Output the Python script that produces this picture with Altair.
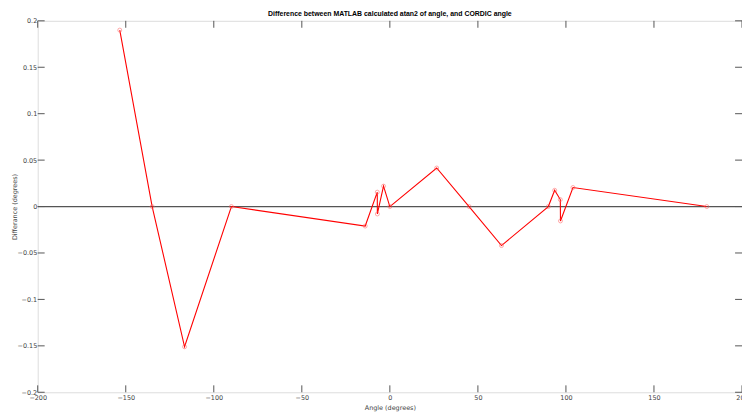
import altair as alt
import pandas as pd

# Data
angles = [-153.4, -135.0, -116.6, -90.0, -14.0, -7.15, -7.1, -3.6, 0.0, 26.6, 45.0,
          63.4, 90.0, 93.6, 96.8, 96.9, 104.0, 180.0]
diffs = [0.190, 0.0, -0.151, 0.0, -0.021, 0.0155, -0.008, 0.022, 0.0, 0.0415, 0.0,
         -0.042, 0.0, 0.0175, 0.0075, -0.0155, 0.0205, 0.0]
x_ticks = [-200, -150, -100, -50, 0, 50, 100, 150, 200]
y_ticks = [-0.2, -0.15, -0.1, -0.05, 0, 0.05, 0.1, 0.15, 0.2]
zero_x = [-200, 200]
zero_y = [0, 0]

W, H = 711, 375
FONT = "DejaVu Sans"
FS = 6.5

df = pd.DataFrame({"angle": angles, "diff": diffs, "idx": list(range(len(angles)))})
zero_df = pd.DataFrame({"angle": zero_x, "diff": zero_y})
xt_df = pd.DataFrame({"angle": x_ticks})
yt_df = pd.DataFrame({"diff": y_ticks})

xscale = alt.Scale(domain=[-200, 200], nice=False, zero=False)
yscale = alt.Scale(domain=[-0.2, 0.2], nice=False, zero=False)

x_axis = alt.Axis(values=x_ticks, ticks=False, grid=False, domain=False, labelFont=FONT,
                  labelFontSize=FS, labelColor="#444", labelPadding=2, title="Angle (degrees)",
                  titleFont=FONT, titleFontSize=FS, titleFontWeight="normal", titleColor="#444",
                  titlePadding=4, labelFlush=False)
y_axis = alt.Axis(values=y_ticks, ticks=False, grid=False, domain=False, labelFont=FONT,
                  labelFontSize=FS, labelColor="#444", labelPadding=1, title="Differance (degrees)",
                  titleFont=FONT, titleFontSize=FS, titleFontWeight="normal", titleColor="#444",
                  titleX=-23.5, titleY=H / 2, titleAngle=270, titleBaseline="middle",
                  titleAlign="center", labelFlush=False, format="~g")

X = alt.X("angle:Q", scale=xscale, axis=x_axis)
Y = alt.Y("diff:Q", scale=yscale, axis=y_axis)

zero = alt.Chart(zero_df).mark_line(color="#555", strokeWidth=1.2).encode(x=X, y=Y)

line = alt.Chart(df).mark_line(color="#ff0000", strokeWidth=1.1).encode(
    x=X, y=Y, order="idx:Q")

pts = alt.Chart(df).mark_point(shape="circle", filled=False, color="#ff6666",
                               size=16, strokeWidth=0.8).encode(x=X, y=Y)

tick_color = "#555"
xt_bottom = alt.Chart(xt_df).mark_rule(color=tick_color, strokeWidth=1).encode(
    x=X, y=alt.value(H), y2=alt.value(H - 7))
xt_top = alt.Chart(xt_df).mark_rule(color=tick_color, strokeWidth=1).encode(
    x=X, y=alt.value(0), y2=alt.value(7))
yt_left = alt.Chart(yt_df).mark_rule(color=tick_color, strokeWidth=1).encode(
    y=Y, x=alt.value(0), x2=alt.value(7))
yt_right = alt.Chart(yt_df).mark_rule(color=tick_color, strokeWidth=1).encode(
    y=Y, x=alt.value(W), x2=alt.value(W - 7))

chart = alt.layer(zero, xt_bottom, xt_top, yt_left, yt_right, line, pts).properties(
    width=W, height=H,
    title=alt.TitleParams("Difference between MATLAB calculated atan2 of angle, and CORDIC angle",
                          font="Liberation Sans", fontSize=7, fontWeight="bold", color="#000",
                          anchor="middle", offset=1),
    autosize=alt.AutoSizeParams(type="none"),
    padding={"left": 30, "top": 11, "right": 0, "bottom": 22},
).configure_view(stroke="#444", strokeWidth=1.3).configure(background="white")

chart.save("out.html", embed_options={"renderer": "svg", "actions": False})
